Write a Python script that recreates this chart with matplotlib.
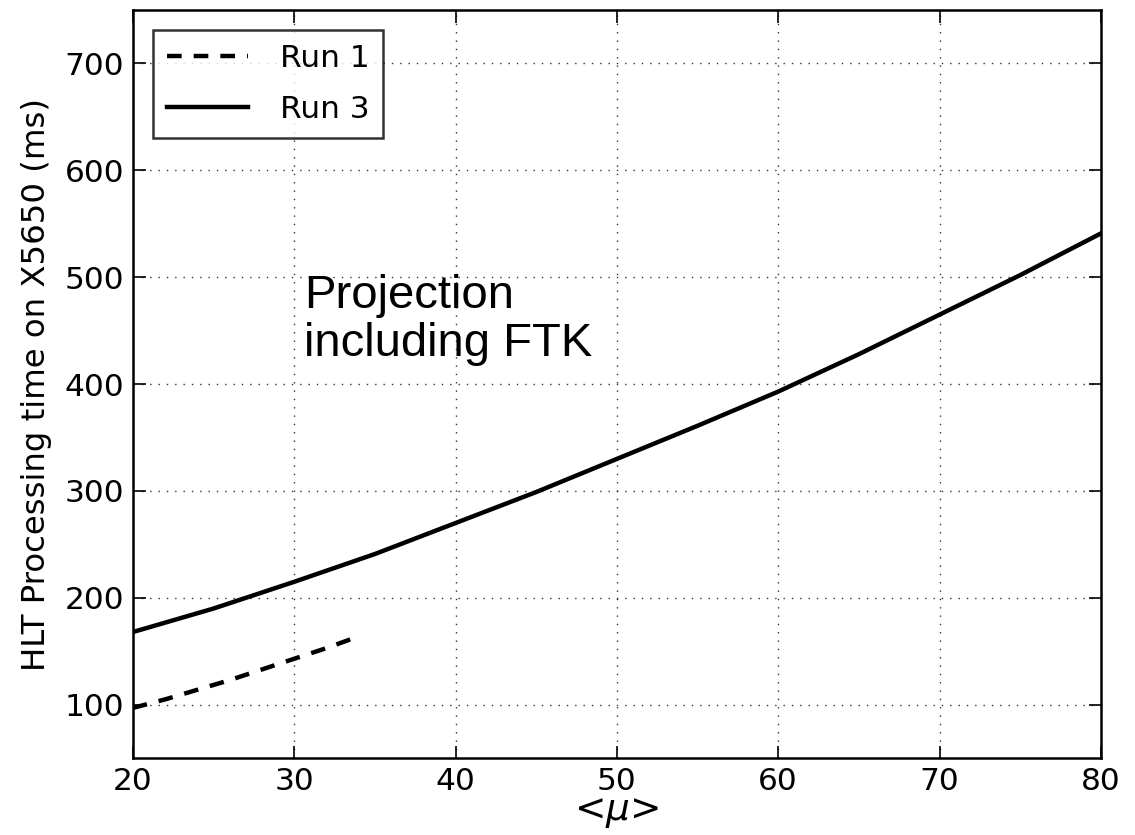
import matplotlib
matplotlib.use("Agg")
import matplotlib.pyplot as plt

# Data
mu_run1 = [20, 22, 24, 26, 28, 30, 32, 34]
time_run1 = [97, 105, 114, 123, 133, 143, 153, 164]

mu_run3 = [20, 25, 30, 35, 40, 45, 50, 55, 60, 65, 70, 75, 80]
time_run3 = [168, 190, 215, 241, 270, 299, 330, 361, 393, 428, 465, 502, 541]

x_ticks = [20, 30, 40, 50, 60, 70, 80]
y_ticks = [100, 200, 300, 400, 500, 600, 700]

fig = plt.figure(figsize=(11.35, 8.35), dpi=100)
ax = fig.add_axes([0.117, 0.092, 0.853, 0.896])

ax.plot(mu_run1, time_run1, color="black", linestyle="--", linewidth=3.2,
        dashes=(3.3, 2.7), label="Run 1")
ax.plot(mu_run3, time_run3, color="black", linestyle="-", linewidth=3.2,
        label="Run 3")

ax.set_xlim(20, 80)
ax.set_ylim(50, 750)
ax.set_xticks(x_ticks)
ax.set_yticks(y_ticks)
ax.tick_params(direction="in", length=9, width=1.2, labelsize=22.5,
               top=True, right=True, pad=6)
for s in ax.spines.values():
    s.set_linewidth(1.8)
ax.grid(True, linestyle=(0, (1, 5)), color="black", linewidth=1.0, alpha=0.8)

ax.set_ylabel("HLT Processing time on X5650 (ms)", fontsize=23.3, labelpad=9)
ax.set_xlabel(r"<$\mu$>", fontsize=27, labelpad=-1)

ax.text(30.6, 503, "Projection\nincluding FTK", fontsize=34,
        family="Liberation Sans", va="top", ha="left", linespacing=1.12)

leg = ax.legend(loc="upper left", fontsize=22.5, frameon=True, fancybox=False,
                handlelength=2.6, borderpad=0.45, labelspacing=0.7,
                handletextpad=1.0, borderaxespad=0.65)
leg.get_frame().set_edgecolor("black")
leg.get_frame().set_linewidth(1.8)

fig.savefig("out.png", dpi=100)
